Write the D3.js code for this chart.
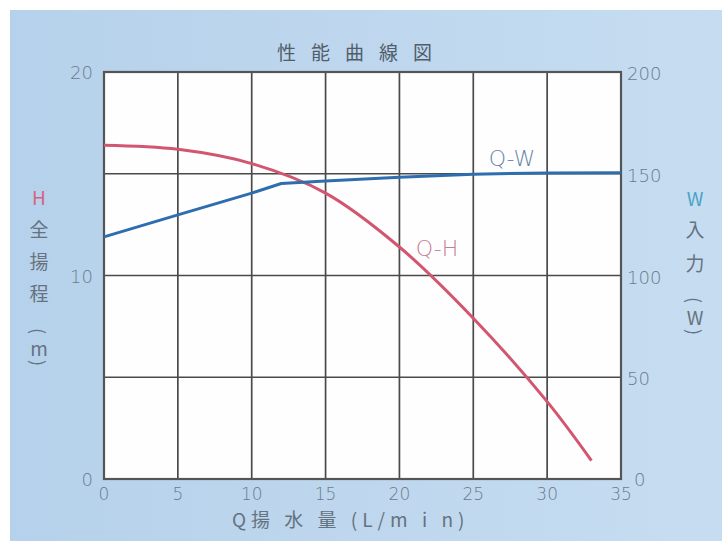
<!DOCTYPE html>
<html>
<head>
<meta charset="utf-8">
<script src="https://cdn.jsdelivr.net/npm/d3@7"></script>
<style>
  body { margin: 0; background: #fff; }
  text { font-family: "Noto Sans CJK JP", "Noto Sans", sans-serif; }
  .num { font-family: "DejaVu Sans", sans-serif; }
</style>
</head>
<body>
<svg id="chart"></svg>
<script>
// performance curve data
const qhFlow = [0, 5, 10, 15, 20, 25, 30, 33];
const qhHead = [16.4, 16.2, 15.5, 14.05, 11.4, 7.9, 3.8, 0.9];
const qwFlow = [0, 5, 10, 12, 15, 20, 25, 30, 35];
const qwWatt = [119, 129.8, 140.5, 145.2, 146.4, 148.3, 149.8, 150.4, 150.5];
const xTicks = [0, 5, 10, 15, 20, 25, 30, 35];
const hTicks = [0, 10, 20];
const wTicks = [0, 50, 100, 150, 200];

const width = 722, height = 545;
const margin = {left: 104, right: 101, top: 72, bottom: 66};

const svg = d3.select("#chart")
    .attr("width", width)
    .attr("height", height);

// blue panel
const grad = svg.append("defs").append("linearGradient")
    .attr("id", "bg").attr("x1", 0).attr("x2", 1).attr("y1", 0).attr("y2", 0);
grad.append("stop").attr("offset", "0%").attr("stop-color", "#b6d1eb");
grad.append("stop").attr("offset", "100%").attr("stop-color", "#c6ddf1");
svg.append("rect")
    .attr("x", 10).attr("y", 10)
    .attr("width", width - 10).attr("height", 531)
    .style("fill", "url(#bg)");

const x = d3.scaleLinear().domain([0, 35]).range([margin.left, width - margin.right]);
const yH = d3.scaleLinear().domain([0, 20]).range([height - margin.bottom, margin.top]);
const yW = d3.scaleLinear().domain([0, 200]).range([height - margin.bottom, margin.top]);

// plot area
svg.append("rect")
    .attr("x", x(0)).attr("y", yH(20))
    .attr("width", x(35) - x(0)).attr("height", yH(0) - yH(20))
    .style("fill", "#fefefe");

// grid
svg.selectAll(".vgrid")
    .data(xTicks.slice(1, -1))
    .enter().append("line")
    .attr("x1", d => x(d)).attr("x2", d => x(d))
    .attr("y1", yH(20)).attr("y2", yH(0))
    .style("stroke", "#4a4a4a").style("stroke-width", 1.7);
svg.selectAll(".hgrid")
    .data(wTicks.slice(1, -1))
    .enter().append("line")
    .attr("x1", x(0)).attr("x2", x(35))
    .attr("y1", d => yW(d)).attr("y2", d => yW(d))
    .style("stroke", "#4a4a4a").style("stroke-width", 1.7);
svg.append("rect")
    .attr("x", x(0)).attr("y", yH(20))
    .attr("width", x(35) - x(0)).attr("height", yH(0) - yH(20))
    .style("fill", "none").style("stroke", "#555").style("stroke-width", 2.2);

const tickColor = "#6b7b8c";

// left ticks
svg.selectAll(".hl")
    .data(hTicks)
    .enter().append("text")
    .classed("num", true)
    .attr("x", 93).attr("y", d => yH(d) + 7)
    .style("text-anchor", "end")
    .style("font-size", "18px").style("font-weight", 200)
    .style("fill", tickColor)
    .text(d => d);

// right ticks
svg.selectAll(".wl")
    .data(wTicks)
    .enter().append("text")
    .classed("num", true)
    .attr("x", d => d === 0 ? 634 : 627)
    .attr("y", d => d === 0 ? yW(d) + 7 : yW(d) + 8)
    .style("text-anchor", "start")
    .style("font-size", "18px").style("font-weight", 200)
    .style("fill", tickColor)
    .text(d => d);

// bottom ticks
svg.selectAll(".xl")
    .data(xTicks)
    .enter().append("text")
    .classed("num", true)
    .attr("x", d => x(d))
    .attr("y", 500)
    .style("text-anchor", "middle")
    .style("font-size", "17px").style("font-weight", 200)
    .style("fill", tickColor)
    .text(d => d);

// curves
const qh = qhFlow.map((q, i) => [q, qhHead[i]]);
const qw = qwFlow.map((q, i) => [q, qwWatt[i]]);

svg.append("path")
    .datum(qh)
    .attr("d", d3.line().x(d => x(d[0])).y(d => yH(d[1])).curve(d3.curveCatmullRom.alpha(0.5)))
    .style("fill", "none").style("stroke", "#d2566f").style("stroke-width", 3);

svg.append("path")
    .datum(qw)
    .attr("d", d3.line().x(d => x(d[0])).y(d => yW(d[1])))
    .style("fill", "none").style("stroke", "#2e6eaf").style("stroke-width", 3)
    .style("stroke-linejoin", "round");

// curve labels
svg.append("text")
    .classed("num", true)
    .attr("x", 512).attr("y", 166)
    .style("text-anchor", "middle").style("font-size", "22px").style("font-weight", 200)
    .style("fill", "#6a86a5")
    .text("Q-W");
svg.append("text")
    .classed("num", true)
    .attr("x", 437).attr("y", 256)
    .style("text-anchor", "middle").style("font-size", "22px").style("font-weight", 200)
    .style("fill", "#c47f97")
    .text("Q-H");

// title
svg.append("text")
    .attr("x", 277).attr("y", 60)
    .style("text-anchor", "start").style("font-size", "19px")
    .style("letter-spacing", "15px")
    .style("fill", "#515d6a")
    .text("性能曲線図");

// x axis label
svg.append("text")
    .attr("x", 232).attr("y", 527)
    .style("text-anchor", "start").style("font-size", "19px")
    .style("letter-spacing", "5px")
    .style("fill", "#66727f")
    .text("Q揚 水 量 (L/m i n)");

// vertical axis labels
const labelColor = "#66727f";
const leftLabel = [
    {t: "H", y: 196, c: "#d7627f"},
    {t: "全", y: 228, c: labelColor},
    {t: "揚", y: 260, c: labelColor},
    {t: "程", y: 292, c: labelColor},
    {t: "m", y: 347, c: labelColor}
];
const rightLabel = [
    {t: "W", y: 197, c: "#4aa2c6"},
    {t: "入", y: 228, c: labelColor},
    {t: "力", y: 262, c: labelColor},
    {t: "W", y: 316, c: labelColor}
];
function vLabel(cls, data, cx) {
    svg.selectAll("." + cls)
        .data(data)
        .enter().append("text")
        .attr("x", cx).attr("y", d => d.y)
        .attr("dominant-baseline", "central")
        .style("text-anchor", "middle").style("font-size", "19px")
        .style("fill", d => d.c)
        .text(d => d.t);
}
vLabel("ll", leftLabel, 39);
vLabel("rl", rightLabel, 695);

// rotated parentheses around the units
function parens(cx, cy, half) {
    [["(", cy - half], [")", cy + half]].forEach(([p, py]) => {
        svg.append("text")
            .attr("transform", `translate(${cx},${py}) rotate(90)`)
            .attr("dominant-baseline", "central")
            .style("text-anchor", "middle").style("font-size", "18px")
            .style("fill", labelColor)
            .text(p);
    });
}
parens(39, 347, 16);
parens(695, 316, 16);
</script>
</body>
</html>
